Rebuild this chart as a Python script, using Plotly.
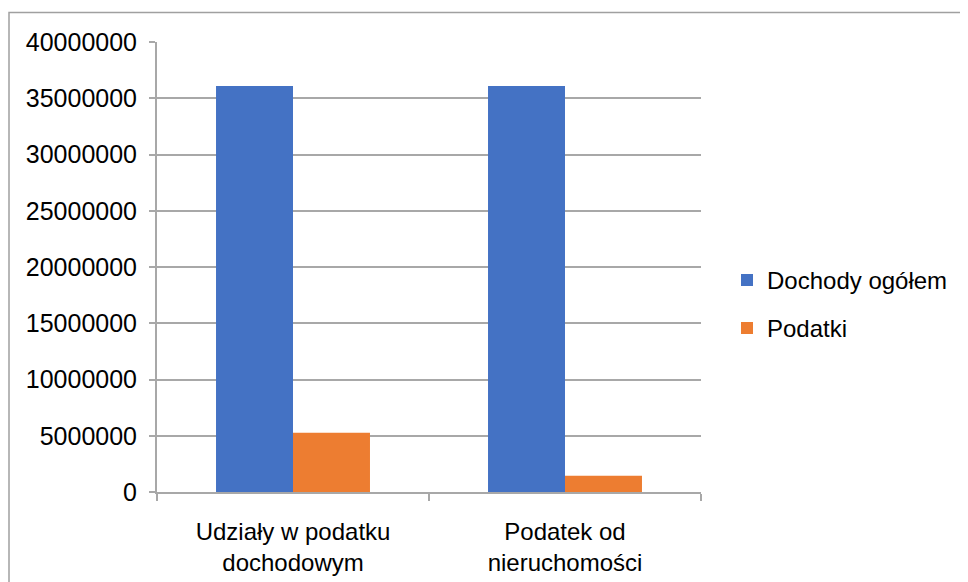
import plotly.graph_objects as go

categories = ["Udziały w podatku<br>dochodowym", "Podatek od<br>nieruchomości"]
dochody = [36100000, 36100000]
podatki = [5270000, 1450000]
tick_vals = [0, 5000000, 10000000, 15000000, 20000000, 25000000, 30000000, 35000000, 40000000]

FONT = "Liberation Sans"
GRID = "#a8a8a8"

W, H = 960, 574
L, R, T, B = 149, 267, 34, 90
PW, PH = W - L - R, H - T - B

fig = go.Figure()
fig.add_trace(go.Bar(x=categories, y=dochody, name="Dochody ogółem", showlegend=True,
                     marker=dict(color="#4472C4", line=dict(width=0)), legend="legend"))
fig.add_trace(go.Bar(x=categories, y=podatki, name="Podatki", showlegend=True,
                     marker=dict(color="#ED7D31", line=dict(width=0)), legend="legend2"))

leg_common = dict(xanchor="left", yanchor="middle", bgcolor="rgba(0,0,0,0)",
                  font=dict(family=FONT, size=24, color="#000000"), itemwidth=30,
                  visible=True)

fig.update_layout(
    width=W, height=H,
    margin=dict(l=L, r=R, t=T, b=B, autoexpand=False),
    paper_bgcolor="white", plot_bgcolor="white",
    barmode="group", bargap=0.434, bargroupgap=0,
    showlegend=True,
    font=dict(family=FONT, size=24, color="#000000"),
    legend=dict(x=(727 - 157) / PW, y=(491.7 - 280) / PH, **leg_common),
    legend2=dict(x=(727 - 157) / PW, y=(491.7 - 328) / PH, **leg_common),
    xaxis=dict(type="category", showline=True, linecolor=GRID, linewidth=2, automargin=False,
               ticks="outside", tickson="boundaries", ticklen=7, tickcolor=GRID, tickwidth=2,
               showgrid=False, ticklabelstandoff=17,
               tickfont=dict(family=FONT, size=24, color="#000000")),
    yaxis=dict(range=[0, 40000000], tickvals=tick_vals, ticktext=[str(v) for v in tick_vals],
               showline=True, linecolor=GRID, linewidth=2, ticks="outside", ticklen=6,
               tickcolor=GRID, tickwidth=2, showgrid=True, gridcolor=GRID, gridwidth=2,
               zeroline=False, ticklabelstandoff=7, automargin=False,
               tickfont=dict(family=FONT, size=25, color="#000000")),
    shapes=[dict(type="rect", xref="paper", yref="paper",
                 x0=(1 - L) / PW, x1=(W + 20 - L) / PW,
                 y0=-(B + 20) / PH, y1=(H - B - 4.5) / PH,
                 line=dict(color="#a0a0a0", width=1.5), fillcolor="rgba(0,0,0,0)", layer="below")],
)

fig.write_html("out.html")
